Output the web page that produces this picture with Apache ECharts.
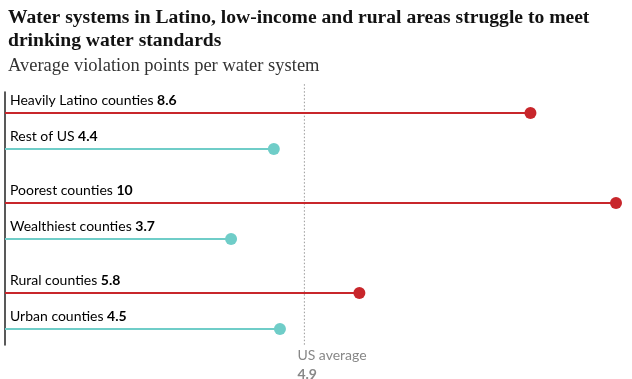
<!DOCTYPE html>
<html><head><meta charset="utf-8">
<script src="https://cdn.jsdelivr.net/npm/echarts@6/dist/echarts.min.js"></script>
<style>html,body{margin:0;padding:0;background:#fff}#c{width:632px;height:379px}</style>
</head><body><div id="c"></div>
<script>
const categories = ["Heavily Latino counties","Rest of US","Poorest counties","Wealthiest counties","Rural counties","Urban counties"];
const values = [8.6, 4.4, 10, 3.7, 5.8, 4.5];
const rowPositions = [0, 2, 5, 7, 10, 12];
const highlight = [true, false, true, false, true, false];
const usAverage = 4.9;
const RED = '#c8262b', TEAL = '#6fcdc8';

const rows = categories.map((c, i) => [values[i], rowPositions[i], c, highlight[i] ? 1 : 0]);
const chart = echarts.init(document.getElementById('c'));
chart.setOption({
  animation: false,
  title: [
    {text: 'Water systems in Latino, low-income and rural areas struggle to meet\ndrinking water standards', left: 3, top: 1,
     textStyle: {fontFamily: 'Liberation Serif', fontWeight: 'bold', fontSize: 19.6, lineHeight: 23, color: '#121212'}},
    {text: 'Average violation points per water system', left: 3, top: 52,
     textStyle: {fontFamily: 'Liberation Serif', fontWeight: 'normal', fontSize: 18.5, color: '#333'}}
  ],
  grid: {left: 5, right: 16, top: 92, bottom: 34},
  xAxis: {type: 'value', min: 0, max: 10, show: false},
  yAxis: {type: 'value', inverse: true, min: -1.1667, max: 12.889,
    axisLine: {show: true, lineStyle: {color: '#222', width: 1.5}}, axisTick: {show: false}, axisLabel: {show: false}, splitLine: {show: false}},
  series: [
    {type: 'custom', clip: false, data: [[usAverage]],
     renderItem: function (params, api) {
       const top = api.coord([api.value(0), -1.6]);
       const bot = api.coord([api.value(0), 12.889]);
       return {type: 'group', children: [
         {type: 'line', shape: {x1: top[0], y1: top[1], x2: bot[0], y2: bot[1]}, style: {stroke: '#999', lineWidth: 1, lineDash: [1.5, 2]}},
         {type: 'text', x: top[0] - 7, y: bot[1] + 1, style: {text: '{a|US average}\n{b|' + api.value(0) + '}', fill: '#888',
           rich: {a: {fontFamily: 'Lato', fontSize: 14, fill: '#888', color: '#888', lineHeight: 19}, b: {fontFamily: 'Lato', fontSize: 14, fontWeight: 'bold', fill: '#888', color: '#888', lineHeight: 19}}}}
       ]};
     }},
    {type: 'custom', clip: false, data: rows,
     renderItem: function (params, api) {
       const v = api.value(0), p = api.value(1);
       const start = api.coord([0, p]);
       const end = api.coord([v, p]);
       const col = api.value(3) ? RED : TEAL;
       return {type: 'group', children: [
         {type: 'line', shape: {x1: start[0], y1: start[1], x2: end[0], y2: end[1]}, style: {stroke: col, lineWidth: 2}},
         {type: 'circle', shape: {cx: end[0], cy: end[1], r: 6}, style: {fill: col}},
         {type: 'text', x: start[0] + 5, y: start[1] - 13, style: {text: '{a|' + rows[params.dataIndex][2] + ' }{b|' + v + '}', verticalAlign: 'middle',
           rich: {a: {fontFamily: 'Lato', fontSize: 14, color: '#222'}, b: {fontFamily: 'Lato', fontSize: 14, fontWeight: 'bold', color: '#121212'}}}}
       ]};
     }}
  ]
});
</script></body></html>
